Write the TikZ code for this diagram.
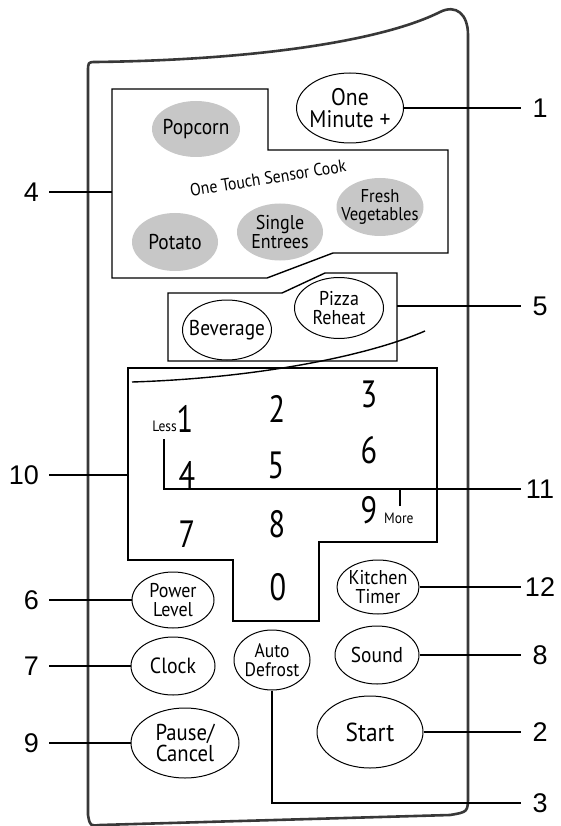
\documentclass[tikz,border=0pt]{standalone}
\usepackage{fontspec}
\setmainfont{PT Sans}[FakeStretch=0.9]
\newfontfamily\padfont{PT Sans}[FakeStretch=0.8]
\newfontfamily\calloutfont{Liberation Sans}
\usetikzlibrary{shapes.geometric}

\begin{document}
\begin{tikzpicture}[x=1pt,y=-1pt,
  key/.style={ellipse,draw,line width=1pt,inner sep=0pt},
  sensorkey/.style={ellipse,fill=black!22,inner sep=0pt},
  keylabel/.style={align=center,inner sep=0pt,font=\fontsize{20}{19}\selectfont},
  digit/.style={anchor=base,inner sep=0pt,font=\padfont\fontsize{38}{38}\selectfont},
  calloutr/.style={minimum width=38,inner sep=0pt,font=\calloutfont\fontsize{27}{27}\selectfont},
  calloutl/.style={anchor=east,inner xsep=10pt,inner ysep=0pt,font=\calloutfont\fontsize{27}{27}\selectfont},
  lead/.style={line width=1.4pt}]
\useasboundingbox (0,0) rectangle (561,826);

% panel outline
\draw[line width=2.6pt,black!78,line join=round] (96,62) .. controls (250,60) and (380,42) .. (440,12)
  .. controls (456,4) and (468,14) .. (468,35) -- (468,795) .. controls (468,812) .. (450,815)
  -- (100,825) .. controls (90,826) .. (88,815) -- (88,72) .. controls (88,62) .. (96,62) -- cycle;

% key groups
\draw[lead] (112,89) -- (268,89) -- (268,150) -- (448,150) -- (448,253) -- (333,253) -- (267,278) -- (112,278) -- cycle;
\draw[lead] (168,293) -- (282,293) -- (325,273) -- (397,273) -- (397,361) -- (168,361) -- cycle;
\draw[lead] (128,368) -- (437,368) -- (437,542) -- (319,542) -- (319,621) -- (233,621) -- (233,560) -- (128,560) -- cycle;
\draw[lead] (425,331) .. controls (370,355) and (260,378) .. (132,382);

% sensor cook
\node[sensorkey,minimum width=88,minimum height=56,label={[keylabel,font=\fontsize{21.5}{19}\selectfont]center:Popcorn}] (popcorn) at (196,129) {};
\node[sensorkey,minimum width=86,minimum height=58,label={[keylabel,font=\fontsize{21.5}{19}\selectfont]center:Potato}] (potato) at (175,242) {};
\node[sensorkey,minimum width=86,minimum height=57,label={[keylabel]center:{Single\\Entrees}}] (entrees) at (280,232) {};
\node[sensorkey,minimum width=87,minimum height=58,label={[keylabel,font=\fontsize{18.5}{18}\selectfont]center:{Fresh\\Vegetables}}] (vegetables) at (380,207) {};
\node[rotate=9,inner sep=0pt,font=\fontsize{17.5}{17.5}\selectfont] (sensorcook) at (268,178) {One Touch Sensor Cook};

% keys
\node[key,minimum width=107,minimum height=70,label={[keylabel,font=\fontsize{24}{22}\selectfont]center:{One\\Minute +}}] (minute) at (350,108) {};
\node[key,minimum width=89,minimum height=60,label={[keylabel,font=\fontsize{21.5}{19}\selectfont]center:Beverage}] (beverage) at (227,330) {};
\node[key,minimum width=89,minimum height=61,label={[keylabel]center:{Pizza\\Reheat}}] (pizza) at (339,308) {};
\node[key,minimum width=82,minimum height=56,label={[keylabel]center:{Power\\Level}}] (power) at (173,600) {};
\node[key,minimum width=82,minimum height=54,label={[keylabel]center:{Kitchen\\Timer}}] (kitchen) at (378,587) {};
\node[key,minimum width=84,minimum height=58,label={[keylabel,font=\fontsize{22}{19}\selectfont]center:Clock}] (clock) at (173,666) {};
\node[key,minimum width=76,minimum height=60,label={[keylabel,font=\fontsize{19.5}{18.5}\selectfont]center:{Auto\\Defrost}}] (defrost) at (272,660) {};
\node[key,minimum width=84,minimum height=58,label={[keylabel,font=\fontsize{21.5}{19}\selectfont]center:Sound}] (sound) at (377,655) {};
\node[key,minimum width=108,minimum height=70,label={[keylabel,font=\fontsize{23}{21.5}\selectfont]center:{Pause/\\Cancel}}] (pause) at (185,743) {};
\node[key,minimum width=106,minimum height=72,label={[keylabel,font=\fontsize{26}{22}\selectfont]center:Start}] (start) at (370,732) {};

% number pad
\foreach \d/\x/\y in {1/185/432,2/277/422,3/369/407,4/187/488,5/276/478,6/369/463,7/187/547,8/277/537,9/369/523,0/278/600}
  \node[digit] (d\d) at (\x,\y) {\d};
\node[anchor=base east,inner sep=0pt,font=\fontsize{15}{15}\selectfont] (less) at (177,431) {Less};
\node[anchor=base west,inner sep=0pt,font=\fontsize{15}{15}\selectfont] (more) at (384,523) {More};

% callouts
\node[calloutr] (l1) at (540,108) {1};
\node[calloutr] (l5) at (540,306) {5};
\node[calloutr] (l11) at (540,489) {11};
\node[calloutr] (l12) at (540,587) {12};
\node[calloutr] (l8) at (540,655) {8};
\node[calloutr] (l2) at (540,732) {2};
\node[calloutr] (l3) at (540,803) {3};
\node[calloutl] (l4) at (49,192) {4};
\node[calloutl] (l10) at (49,475) {10};
\node[calloutl] (l6) at (49,600) {6};
\node[calloutl] (l7) at (49,666) {7};
\node[calloutl] (l9) at (49,743) {9};

\coordinate (sensorleft) at (112,192);
\coordinate (padleft) at (128,475);
\coordinate (bevright) at (397,306);
\coordinate (lesstop) at (164,439);
\coordinate (moretick) at (400,506);

\draw[lead] (minute.east) -- (l1.west);
\draw[lead] (bevright) -- (l5.west);
\draw[lead] (lesstop) |- (l11.west);
\draw[lead] (moretick) -- (moretick |- l11.west);
\draw[lead] (kitchen.east) -- (l12.west);
\draw[lead] (sound.east) -- (l8.west);
\draw[lead] (start.east) -- (l2.west);
\draw[lead] (defrost.south) |- (l3.west);
\draw[lead] (l4.east) -- (sensorleft);
\draw[lead] (l10.east) -- (padleft);
\draw[lead] (l6.east) -- (power.west);
\draw[lead] (l7.east) -- (clock.west);
\draw[lead] (l9.east) -- (pause.west);
\end{tikzpicture}
\end{document}
